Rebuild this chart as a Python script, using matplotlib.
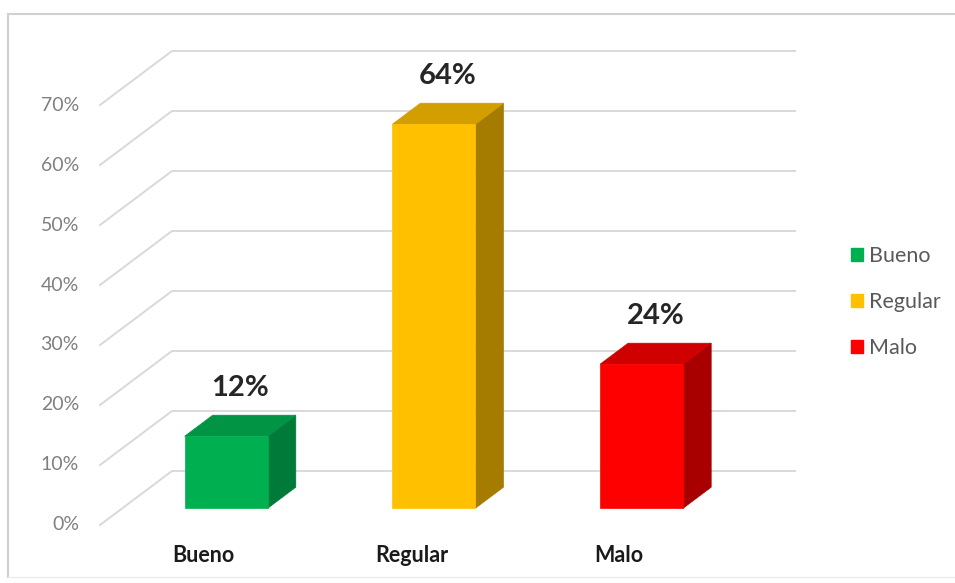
import matplotlib
matplotlib.use("Agg")
import matplotlib.pyplot as plt
from matplotlib.patches import Polygon, Patch
from matplotlib.lines import Line2D

# --- data -------------------------------------------------------------
categories = ["Bueno", "Regular", "Malo"]
values = [12, 64, 24]                      # percent
value_labels = ["12%", "64%", "24%"]
y_ticks = [0, 10, 20, 30, 40, 50, 60, 70]
y_tick_labels = ["0%", "10%", "20%", "30%", "40%", "50%", "60%", "70%"]

# --- styling ----------------------------------------------------------
front_colors = ["#00B050", "#FFC000", "#FF0000"]
top_colors = ["#009444", "#D39E00", "#D00000"]
side_colors = ["#007A38", "#A67C00", "#A80000"]
grid_color = "#D9D9D9"
FONT = ["Lato", "DejaVu Sans"]

W, H = 955, 583
fig = plt.figure(figsize=(W / 100, H / 100), dpi=100)
fig.patch.set_facecolor("white")
ax = fig.add_axes([0, 0, 1, 1])
ax.set_axis_off()

# oblique projection settings (data units)
PX_CAT, PX_PCT = 207.7, 6.0
x_left = -0.5 - 100 / PX_CAT
y_bottom = -(H - 525) / PX_PCT
ax.set_xlim(x_left, x_left + W / PX_CAT)
ax.set_ylim(y_bottom, y_bottom + H / PX_PCT)

DX, DY = 72 / PX_CAT, 54 / PX_PCT      # offset for full depth
D0, D1 = 0.31, 0.70                    # bar depth span
BAR_W = 0.40
n = len(categories)


def P(x, y, d):
    return (x + d * DX, y + d * DY)


# side wall + back wall gridlines
for t in y_ticks:
    pts = [P(-0.5, t, 0), P(-0.5, t, 1), P(n - 0.5, t, 1)]
    ax.plot([p[0] for p in pts], [p[1] for p in pts], color=grid_color,
            lw=1.4, solid_joinstyle="round", zorder=1)

# tick labels on the front edge of the side wall
for t, lab in zip(y_ticks, y_tick_labels):
    ax.text(x_left + 79 / PX_CAT, t, lab, ha="right", va="center",
            fontsize=14, color="#808080", family=FONT, zorder=2)

# 3D columns
for i, v in enumerate(values):
    xl, xr = i - BAR_W / 2, i + BAR_W / 2
    side = [P(xr, 0, D0), P(xr, 0, D1), P(xr, v, D1), P(xr, v, D0)]
    top = [P(xl, v, D0), P(xr, v, D0), P(xr, v, D1), P(xl, v, D1)]
    front = [P(xl, 0, D0), P(xr, 0, D0), P(xr, v, D0), P(xl, v, D0)]
    for poly, col in ((side, side_colors[i]), (top, top_colors[i]),
                      (front, front_colors[i])):
        ax.add_patch(Polygon(poly, closed=True, facecolor=col,
                             edgecolor=col, lw=0.5, zorder=3))
    # value label above the top face
    cx = i + (D0 + D1) / 2 * DX
    ax.text(cx, v + D1 * DY + 4.6, value_labels[i], ha="center", va="center",
            fontsize=21, fontweight="bold", color="#262626", family=FONT,
            zorder=4)

# category labels
for i, c in enumerate(categories):
    ax.text(i, -5.0, c, ha="center", va="center", fontsize=15.5,
            fontweight="bold", color="#1A1A1A", family=FONT, zorder=4)

# legend
handles = [Patch(facecolor=c, edgecolor=c) for c in front_colors]
leg = fig.legend(handles, categories, loc="center left",
                 bbox_to_anchor=(851 / W, 1 - 302 / H),
                 bbox_transform=fig.transFigure, frameon=False,
                 handlelength=0.55, handleheight=0.55, handletextpad=0.3,
                 labelspacing=1.2, borderpad=0, borderaxespad=0,
                 prop={"family": FONT, "size": 15.5})
for txt in leg.get_texts():
    txt.set_color("#595959")

# chart-area frame
fc = "#D0D0D0"
fig.add_artist(Line2D([7.5 / W, 1], [1 - 13.5 / H] * 2, color=fc, lw=1.5,
                      transform=fig.transFigure))
fig.add_artist(Line2D([7.5 / W] * 2, [1 - 13.5 / H, 1 - 577 / H], color=fc,
                      lw=1.5, transform=fig.transFigure))
fig.add_artist(Line2D([7.5 / W, 1], [1 - 577 / H] * 2, color="#EBEBEB",
                      lw=1.0, transform=fig.transFigure))

fig.savefig("out.png", dpi=100, facecolor="white")
